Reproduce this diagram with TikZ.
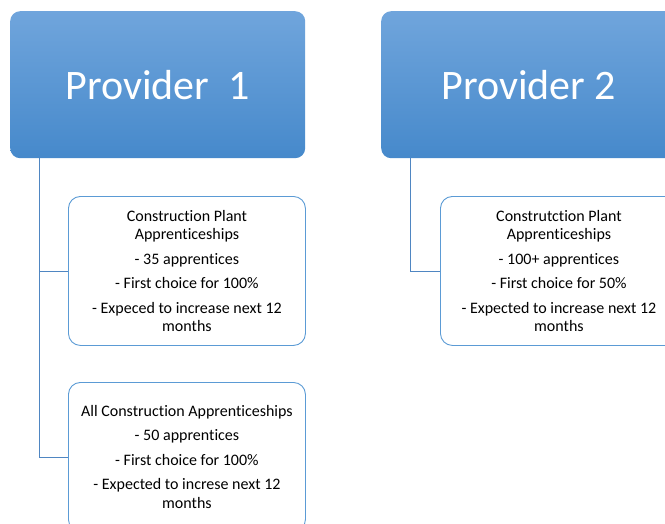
\documentclass[tikz,border=0pt]{standalone}
\usepackage{fontspec}
\setmainfont{Carlito}[Ligatures={NoCommon}]
\definecolor{gtop}{HTML}{70A5DC}
\definecolor{gbot}{HTML}{4689CB}
\definecolor{linec}{HTML}{4F86C2}
\definecolor{boxc}{HTML}{5B9BD5}
\begin{document}
\begin{tikzpicture}[x=1pt,y=-1pt,
  prov/.style={anchor=north west, rounded corners=10pt, top color=gtop, bottom color=gbot,
    minimum width=295pt, minimum height=147pt, inner sep=0pt, text=white,
    font=\fontsize{42}{50}\selectfont},
  child/.style={anchor=north west, rounded corners=12pt, draw=boxc, line width=0.9pt, fill=white,
    minimum width=237pt, minimum height=149pt, inner sep=0pt, align=center,
    font=\fontsize{16}{18.5}\selectfont, text=black},
  conn/.style={draw=linec, line width=0.9pt}]
\useasboundingbox (0,0) rectangle (665,523);
\clip (0,0) rectangle (665,523);
\node[prov] (p1) at (10,11) {Provider\ \ 1};
\node[prov] (p2) at (381,11) {Provider 2};
\node[child] (c1) at (68,196) {Construction Plant\\Apprenticeships\\[6pt]- 35 apprentices\\[6pt]- First choice for 100\%\\[6pt]- Expeced to increase next 12\\months};
\node[child] (c2) at (68,382) {All Construction Apprenticeships\\[6pt]- 50 apprentices\\[6pt]- First choice for 100\%\\[6pt]- Expected to increse next 12\\months};
\node[child] (c3) at (440,196) {Construtction Plant\\Apprenticeships\\[6pt]- 100+ apprentices\\[6pt]- First choice for 50\%\\[6pt]- Expected to increase next 12\\months};
\draw[conn] ([xshift=29pt]p1.south west) |- (c1.west);
\draw[conn] ([xshift=29pt]p1.south west) |- (c2.west);
\draw[conn] ([xshift=29pt]p2.south west) |- (c3.west);
\end{tikzpicture}
\end{document}
